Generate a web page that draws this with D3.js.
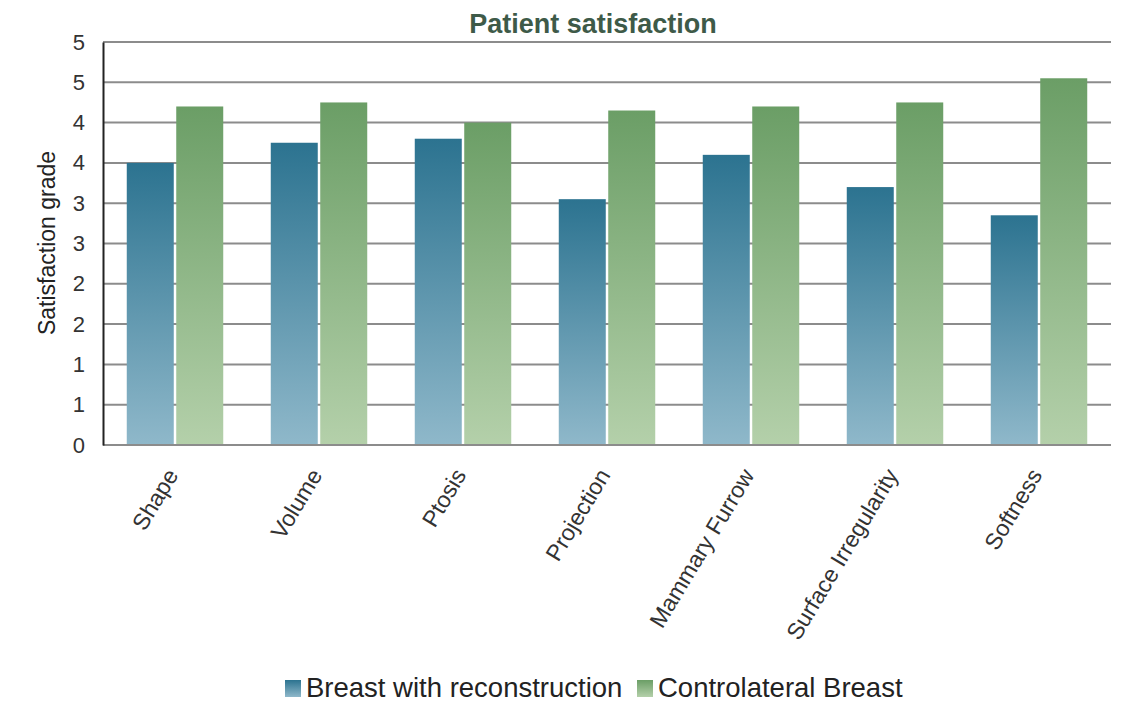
<!DOCTYPE html>
<html>
<head>
<meta charset="utf-8">
<script src="https://cdn.jsdelivr.net/npm/d3@7"></script>
<style>
  body { margin: 0; background: #fff; }
  text { font-family: "Liberation Sans", Arial, sans-serif; }
</style>
</head>
<body>
<div id="main-chart"></div>
<script>
var categories = ["Shape", "Volume", "Ptosis", "Projection", "Mammary Furrow", "Surface Irregularity", "Softness"];
var reconstruction = [3.5, 3.75, 3.8, 3.05, 3.6, 3.2, 2.85];
var controlateral = [4.2, 4.25, 4.0, 4.15, 4.2, 4.25, 4.55];
var seriesNames = ["Breast with reconstruction", "Controlateral Breast"];
var yTicks = [0, 0.5, 1, 1.5, 2, 2.5, 3, 3.5, 4, 4.5, 5];

var width = 1139, height = 707;
var margin = { top: 42, right: 28, bottom: 262, left: 103 };

var svg = d3.select("#main-chart")
  .append("svg")
  .attr("width", width)
  .attr("height", height);

var defs = svg.append("defs");
var grads = [
  { id: "gBlue", top: "#2c7390", bottom: "#8fb8ca" },
  { id: "gGreen", top: "#6b9e66", bottom: "#b4d0aa" }
];
grads.forEach(function(g) {
  var lg = defs.append("linearGradient")
    .attr("id", g.id)
    .attr("x1", 0).attr("y1", 0).attr("x2", 0).attr("y2", 1);
  lg.append("stop").attr("offset", "0%").attr("stop-color", g.top);
  lg.append("stop").attr("offset", "100%").attr("stop-color", g.bottom);
});

var x = d3.scaleBand()
  .domain(categories)
  .range([margin.left, width - margin.right])
  .paddingInner(0.33)
  .paddingOuter(0.165);

var x1 = d3.scaleBand()
  .domain([0, 1])
  .range([0, x.bandwidth()])
  .paddingInner(0.05);

var y = d3.scaleLinear()
  .domain([0, 5])
  .range([height - margin.bottom, margin.top]);

// gridlines
svg.append("g")
  .selectAll("line")
  .data(yTicks.filter(function(d) { return d > 0; }))
  .enter()
  .append("line")
  .attr("x1", margin.left)
  .attr("x2", width - margin.right)
  .attr("y1", function(d) { return y(d); })
  .attr("y2", function(d) { return y(d); })
  .attr("stroke", "#8c8c8c")
  .attr("stroke-width", 2);

// bars
var rows = categories.map(function(c, i) {
  return { cat: c, vals: [reconstruction[i], controlateral[i]] };
});

var groups = svg.append("g")
  .selectAll("g")
  .data(rows)
  .enter()
  .append("g")
  .attr("transform", function(d) { return "translate(" + x(d.cat) + ",0)"; });

groups.selectAll("rect")
  .data(function(d) { return d.vals.map(function(v, k) { return { k: k, v: v }; }); })
  .enter()
  .append("rect")
  .attr("x", function(d) { return x1(d.k); })
  .attr("width", x1.bandwidth())
  .attr("y", function(d) { return y(d.v); })
  .attr("height", function(d) { return y(0) - y(d.v); })
  .attr("fill", function(d) { return "url(#" + grads[d.k].id + ")"; });

// x axis baseline
svg.append("line")
  .attr("x1", margin.left)
  .attr("x2", width - margin.right)
  .attr("y1", y(0))
  .attr("y2", y(0))
  .attr("stroke", "#8c8c8c")
  .attr("stroke-width", 2);

// y axis
var yAxis = svg.append("g")
  .attr("transform", "translate(" + margin.left + ",0)")
  .call(d3.axisLeft(y).tickValues(yTicks).tickSize(0).tickPadding(18)
    .tickFormat(function(d) { return d3.format(".0f")(Math.round(d + 0.001)); }));
yAxis.select(".domain").attr("stroke", "#222").attr("stroke-width", 2);
yAxis.selectAll("text")
  .attr("font-size", 22)
  .attr("fill", "#333");

// x axis labels
var xAxis = svg.append("g")
  .attr("transform", "translate(0," + y(0) + ")")
  .call(d3.axisBottom(x).tickSize(0).tickPadding(0));
xAxis.select(".domain").remove();
xAxis.selectAll("text")
  .attr("font-size", 23)
  .attr("fill", "#333")
  .attr("text-anchor", "end")
  .attr("dy", 0)
  .attr("transform", "translate(4,30) rotate(-59)");

// y label
svg.append("text")
  .attr("transform", "translate(55,243) rotate(-90)")
  .attr("text-anchor", "middle")
  .attr("font-size", 23)
  .attr("fill", "#222")
  .text("Satisfaction grade");

// title
svg.append("text")
  .attr("x", 593)
  .attr("y", 33)
  .attr("text-anchor", "middle")
  .attr("font-size", 27)
  .attr("font-weight", "bold")
  .attr("fill", "#3e5a48")
  .text("Patient satisfaction");

// legend
var legendX = [285, 637];
var legend = svg.append("g")
  .selectAll("g")
  .data(seriesNames)
  .enter()
  .append("g")
  .attr("transform", function(d, i) { return "translate(" + legendX[i] + ",680)"; });
legend.append("rect")
  .attr("width", 16)
  .attr("height", 17)
  .attr("fill", function(d, i) { return "url(#" + grads[i].id + ")"; });
legend.append("text")
  .attr("x", 21)
  .attr("y", 17)
  .attr("font-size", 27.5)
  .attr("fill", "#222")
  .text(function(d) { return d; });
</script>
</body>
</html>
